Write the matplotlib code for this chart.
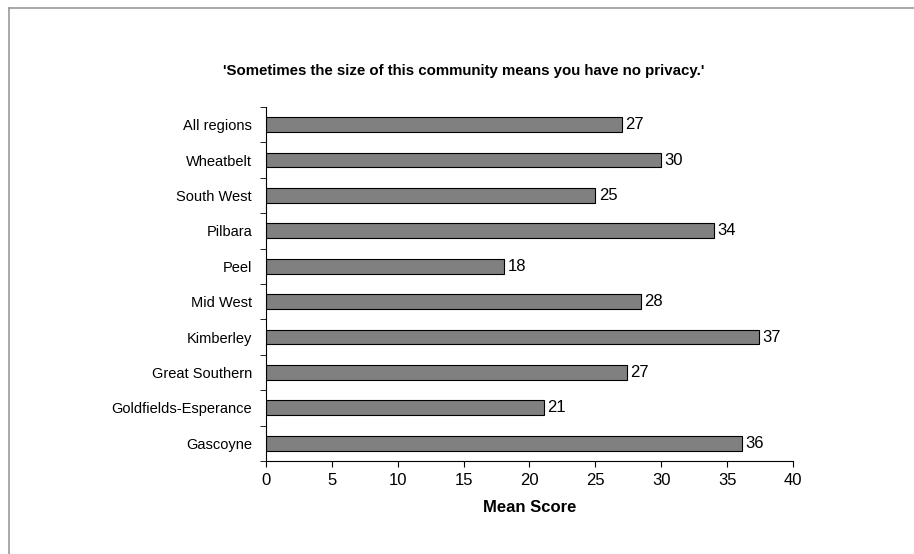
import numpy as np
import matplotlib.pyplot as plt
from matplotlib.lines import Line2D

plt.rcParams['font.family'] = ['Liberation Sans', 'DejaVu Sans']

regions = ['Gascoyne', 'Goldfields-Esperance', 'Great Southern', 'Kimberley',
           'Mid West', 'Peel', 'Pilbara', 'South West', 'Wheatbelt', 'All regions']
# bar lengths (labels shown rounded)
scores = [36.1, 21.1, 27.4, 37.45, 28.45, 18.1, 34.0, 25.0, 30.0, 27.0]
xticks = [0, 5, 10, 15, 20, 25, 30, 35, 40]

fig = plt.figure(figsize=(9.14, 5.54), dpi=100)
ax = fig.add_axes([0.291, 0.168, 0.5766, 0.639])

y = np.arange(len(regions))
ax.barh(y, scores, height=0.42, color='#808080', edgecolor='black', linewidth=0.8)
for yi, v in zip(y, scores):
    ax.text(v + 0.25, yi, '{:.0f}'.format(v), va='center', ha='left', fontsize=12)

ax.set_xlim(0, 40)
ax.set_ylim(-0.5, len(regions) - 0.5)
ax.set_xticks(xticks)
ax.set_xticklabels([str(t) for t in xticks], fontsize=12)
ax.set_yticks(y)
ax.set_yticklabels(regions, fontsize=10.5)
ax.tick_params(axis='y', length=0, pad=10)
ax.set_yticks(np.arange(-0.5, len(regions), 1), minor=True)
ax.tick_params(axis='y', which='minor', length=4, direction='out')
ax.tick_params(axis='x', length=4, direction='out', pad=5)
ax.spines['top'].set_visible(False)
ax.spines['right'].set_visible(False)
ax.set_xlabel('Mean Score', fontsize=12, fontweight='bold', labelpad=8)

fig.text(0.507, 0.872, "'Sometimes the size of this community means you have no privacy.'",
         ha='center', va='center', fontsize=10.8, fontweight='bold')

# chart-area border (left and top only visible in reference)
fig.add_artist(Line2D([0.0098, 0.0098], [0, 0.985], transform=fig.transFigure,
                      color='#999999', linewidth=1.2))
fig.add_artist(Line2D([0.0098, 1.0], [0.985, 0.985], transform=fig.transFigure,
                      color='#999999', linewidth=1.2))

fig.savefig('out.png', dpi=100)
